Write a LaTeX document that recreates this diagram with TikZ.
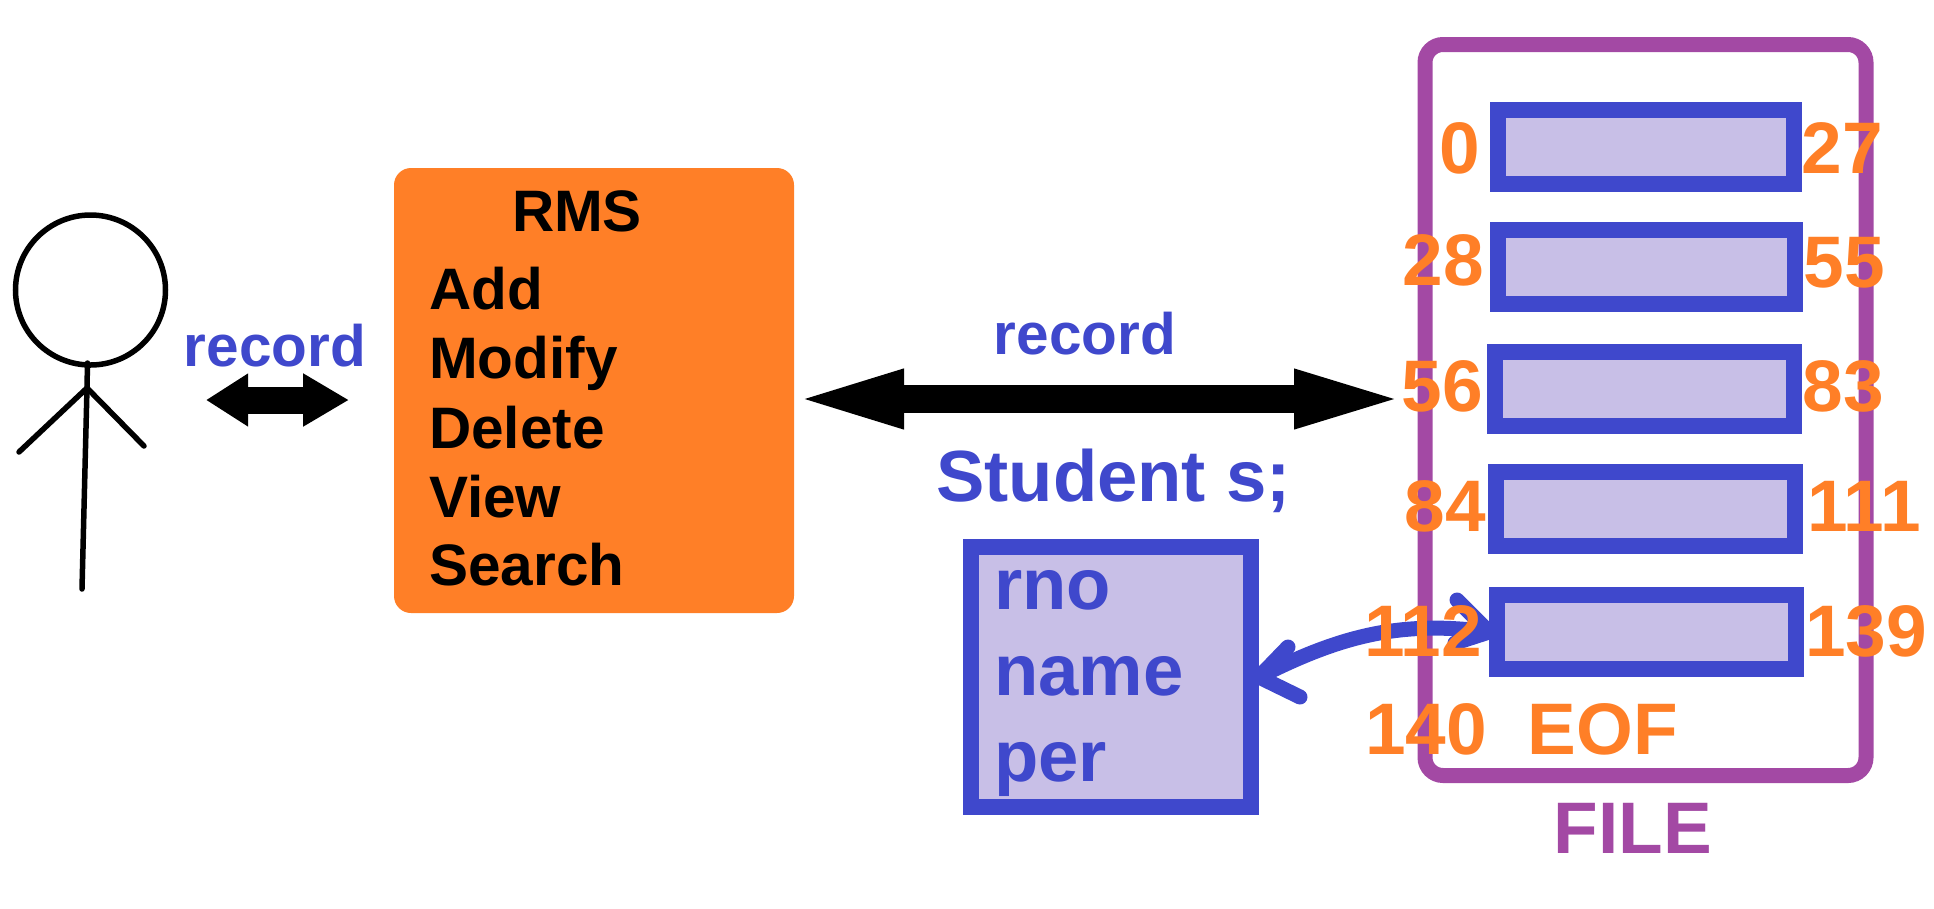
\documentclass[tikz,border=0pt]{standalone}
\usepackage{fontspec}
\setmainfont{Liberation Sans}
\usetikzlibrary{arrows.meta}
\definecolor{recordblue}{HTML}{3F48CC}
\definecolor{recordfill}{HTML}{C8BFE7}
\definecolor{rmsorange}{HTML}{FF7F27}
\definecolor{filepurple}{HTML}{A349A4}
\begin{document}
\begin{tikzpicture}[
  x=1pt,
  y=-1pt,
  stickline/.style={
    draw=black,
    line width=5.5pt,
    line cap=round
  },
  recordbox/.style={
    draw=recordblue,
    fill=recordfill,
    line width=16pt,
    inner sep=0pt
  },
  offsetlabel/.style={
    text=rmsorange,
    font=\fontsize{73}{73}\selectfont\bfseries,
    inner sep=0pt,
    anchor=base
  },
  menulabel/.style={
    text=black,
    font=\fontsize{58.5}{58.5}\selectfont\bfseries,
    inner sep=0pt,
    anchor=base west
  },
  fieldlabel/.style={
    text=recordblue,
    font=\fontsize{72.5}{72.5}\selectfont\bfseries,
    inner sep=0pt,
    anchor=base west
  },
  recordlabel/.style={
    text=recordblue,
    font=\fontsize{58.5}{58.5}\selectfont\bfseries,
    inner sep=0pt,
    anchor=base
  },
  handline/.style={
    draw=recordblue,
    line width=15pt,
    line cap=round,
    line join=round
  }
]

\useasboundingbox (0,0) rectangle (1934,908);

\node[draw=black, line width=5.5pt, circle, minimum size=150pt, inner sep=0pt] (head) at (90.5,290) {};
\coordinate (neck) at (87.5,363);
\coordinate (hip) at (87,388);
\coordinate (handl) at (19,452);
\coordinate (handr) at (144,446);
\coordinate (foot) at (82,589);
\draw[stickline] (neck) -- (hip) -- (foot);
\draw[stickline] (handl) -- (hip) -- (handr);

\node[recordlabel] (recordl) at (275,366) {record};
\coordinate (smalll) at (206,400);
\coordinate (smallr) at (349,400);
\draw[line width=27pt, {Triangle[length=42pt,width=50pt]}-{Triangle[length=46pt,width=50pt]}] (smalll) -- (smallr);

\node[fill=rmsorange, rounded corners=17pt, minimum width=400pt, minimum height=445pt, inner sep=0pt] (rms) at (594,390.5) {};
\node[menulabel, anchor=base] (rmstitle) at (577,231) {RMS};
\foreach \ypos/\txt in {309/Add,378/Modify,448/Delete,517/View,585/Search} {
  \node[menulabel] (menu\txt) at (429,\ypos) {\txt};
}

\node[recordlabel] (recordr) at (1085,354) {record};
\coordinate (bigl) at (783,399);
\coordinate (bigr) at (1416,399);
\draw[line width=28pt, {Triangle[length=121pt,width=50pt]}-{Triangle[length=122pt,width=50pt]}] (bigl) -- (bigr);

\node[fieldlabel] (student) at (936,501) {Student s;};
\node[recordbox, minimum width=280pt, minimum height=260pt] (obj) at (1111,677) {};
\foreach \ypos/\txt in {609/rno,695/name,781/per} {
  \node[fieldlabel] (field\txt) at (994,\ypos) {\txt};
}

\node[draw=filepurple, line width=15pt, rounded corners=18pt, minimum width=441pt, minimum height=731pt, inner sep=0pt] (filebox) at (1645.5,410) {};
\node[offsetlabel, text=filepurple] (filename) at (1633,853) {FILE};

\newcommand{\drawrecord}[4]{%
  \node[recordbox, minimum width=#4pt, minimum height=74pt] (#1) at (#2,#3) {};
}

\drawrecord{recA}{1646}{147}{296}
\drawrecord{recB}{1646.5}{267}{297}
\drawrecord{recC}{1644.5}{389}{299}
\drawrecord{recD}{1645.5}{509}{299}
\drawrecord{recE}{1646.5}{632}{299}

\coordinate (barbu) at (1288,647);
\coordinate (barbd) at (1300,697);
\coordinate (tailu) at (1457,600);
\coordinate (taild) at (1455,643);
\draw[handline] (obj.east) .. controls (1340,636) and (1400,620) .. (recE.west);
\draw[handline] (barbu) -- (obj.east) -- (barbd);
\draw[handline] (tailu) -- (recE.west) -- (taild);

\foreach \xpos/\ypos/\txt in {
  1460/173/0,1842/173/27,
  1443/285/28,1844/287/55,
  1442/411/56,1843/411/83,
  1445/531/84,1864/531/111,
  1423/656/112,1866/656/139,
  1426/754/140} {
  \node[offsetlabel] (off\txt) at (\xpos,\ypos) {\txt};
}
\node[offsetlabel] (eof) at (1603,754) {EOF};

\end{tikzpicture}
\end{document}
